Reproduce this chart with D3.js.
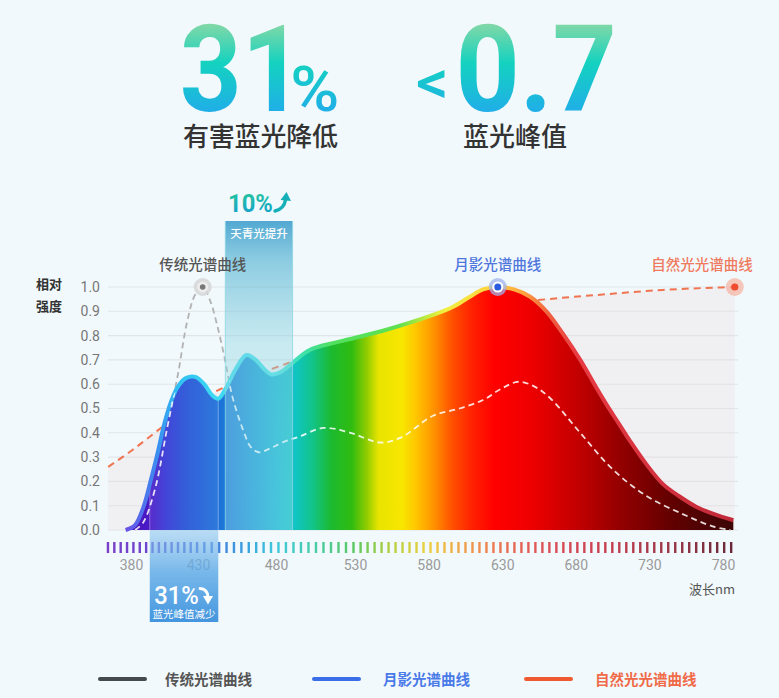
<!DOCTYPE html>
<html><head><meta charset="utf-8">
<script src="https://cdn.jsdelivr.net/npm/d3@7"></script>
<style>
html,body{margin:0;padding:0;background:#f1f9fc;}
svg{display:block;}
</style></head><body>
<svg id="c" width="779" height="698"></svg>
<script>
// ---------- DATA ----------
const xTickValues = [380, 430, 480, 530, 580, 630, 680, 730, 780];
const xTickLabels = ["380", "430", "480", "530", "580", "630", "680", "730", "780"];
const yTickValues = [0, 0.1, 0.2, 0.3, 0.4, 0.5, 0.6, 0.7, 0.8, 0.9, 1.0];
const yTickLabels = ["0.0","0.1","0.2","0.3","0.4","0.5","0.6","0.7","0.8","0.9","1.0"];
const seriesNames = ["传统光谱曲线", "月影光谱曲线", "自然光光谱曲线"];

// 月影光谱曲线 (wavelength nm, relative intensity)
const moonWl  = [376, 383, 389, 395, 400, 405, 410, 415, 421, 428, 434, 439, 443, 448, 454, 461, 467, 472, 477, 483, 490, 501, 520, 549, 583, 597, 608, 617, 627, 638, 649, 660, 671, 683, 694, 701, 709, 717, 728, 739, 750, 762, 774, 787];
const moonVal = [0, 0.02, 0.09, 0.21, 0.32, 0.44, 0.53, 0.59, 0.625, 0.63, 0.60, 0.555, 0.54, 0.585, 0.66, 0.72, 0.70, 0.665, 0.64, 0.65, 0.685, 0.74, 0.775, 0.82, 0.885, 0.92, 0.96, 0.99, 1.0, 0.99, 0.96, 0.90, 0.81, 0.70, 0.585, 0.515, 0.44, 0.365, 0.27, 0.19, 0.14, 0.095, 0.065, 0.04];

// 传统光谱曲线
const tradWl  = [383, 389, 398, 407, 415, 422, 428, 433, 438, 442, 447, 452, 459, 464, 469, 476, 484, 495, 510, 527, 547, 561, 583, 601, 617, 629, 641, 652, 663, 683, 705, 728, 751, 773, 785];
const tradVal = [0, 0.03, 0.17, 0.42, 0.64, 0.86, 0.97, 1.0, 0.94, 0.85, 0.71, 0.55, 0.41, 0.34, 0.32, 0.335, 0.36, 0.385, 0.42, 0.40, 0.36, 0.38, 0.47, 0.50, 0.535, 0.58, 0.61, 0.59, 0.54, 0.40, 0.25, 0.14, 0.07, 0.015, 0];

// 自然光光谱曲线
const natWl  = [363, 380, 400, 407, 430, 455, 476, 489, 520, 560, 600, 630, 654, 694, 739, 788];
const natVal = [0.26, 0.325, 0.41, 0.44, 0.53, 0.61, 0.66, 0.69, 0.76, 0.84, 0.90, 0.93, 0.946, 0.967, 0.988, 1.0];

// peak markers (wavelength of peak for each series)
const tradPeakWl = 433, moonPeakWl = 627, natEndWl = 788;

// highlight bands (wavelength ranges) and their texts
const cyanBand = [447.5, 490.5];   // 天青光提升
const blueBand = [394, 443];       // 蓝光峰值减少
const headline1 = {num: "31", unit: "%", label: "有害蓝光降低"};
const headline2 = {prefix: "<", num: "0.7", label: "蓝光峰值"};
const cyanNote = {pct: "10%", text: "天青光提升"};
const blueNote = {pct: "31%", text: "蓝光峰值减少"};

// spectrum colours (wavelength, colour)
const fillStops = [[376,"#4a0eb5"],[395,"#4a1cc8"],[405,"#3434d4"],[420,"#2350d6"],[440,"#1d6ad8"],[460,"#1890d8"],[480,"#12b4d4"],[492,"#10c4c4"],[503,"#12c48a"],[515,"#1cba30"],[528,"#30bc10"],[538,"#90cc00"],[546,"#e8e400"],[562,"#f8e600"],[572,"#ffc400"],[584,"#ff9000"],[596,"#ff5000"],[610,"#ff2000"],[625,"#ff0000"],[650,"#ee0000"],[680,"#c40000"],[710,"#940000"],[745,"#620000"],[787,"#3a0606"]];
const strokeStops = [[376,"#6a50e8"],[400,"#3a8ff0"],[415,"#30c0f2"],[440,"#3ed8f2"],[480,"#44e2e6"],[500,"#40e0a0"],[515,"#50e060"],[560,"#60e050"],[575,"#b0e840"],[590,"#f0f040"],[626,"#ffd040"],[645,"#ffa040"],[662,"#f06040"],[680,"#e83c44"],[787,"#c02838"]];
const tickStops = [[363,"#7a3ec8"],[400,"#6a48d0"],[430,"#4a6ad8"],[460,"#3aa0e0"],[480,"#40c8dc"],[505,"#48cca8"],[530,"#5cc860"],[555,"#b8d040"],[580,"#ecd040"],[600,"#f0a848"],[625,"#ec7850"],[660,"#dc5058"],[700,"#c84050"],[740,"#a03848"],[787,"#6a2838"]];
const stripWl = d3.range(362.8, 788, 4.75);

// ---------- SCALES ----------
const x = d3.scaleLinear().domain([380, 430, 480, 530, 780]).range([131, 198, 276, 355, 723]);
const y = d3.scaleLinear().domain([0, 1]).range([530, 287]);
const CJK = "'Noto Sans CJK SC','Noto Sans',sans-serif";
const NUM = "Roboto,'Noto Sans',sans-serif";

const svg = d3.select("#c");
const defs = svg.append("defs");

function hGrad(id, stops, x0wl, x1wl) {
  const g = defs.append("linearGradient").attr("id", id).attr("gradientUnits", "userSpaceOnUse")
    .attr("x1", x(x0wl)).attr("x2", x(x1wl)).attr("y1", 0).attr("y2", 0);
  const span = x(x1wl) - x(x0wl);
  stops.forEach(s => g.append("stop").attr("offset", Math.max(0, Math.min(1, (x(s[0]) - x(x0wl)) / span))).attr("stop-color", s[1]));
}
hGrad("specFill", fillStops, 376, 787);
hGrad("specStroke", strokeStops, 376, 787);
const tickColor = d3.scaleLinear().domain(tickStops.map(d => d[0])).range(tickStops.map(d => d[1])).interpolate(d3.interpolateRgb).clamp(true);

function vGrad(id, stops, y1, y2, units) {
  const g = defs.append("linearGradient").attr("id", id).attr("x1", 0).attr("x2", 0);
  if (units) g.attr("gradientUnits", "userSpaceOnUse").attr("y1", y1).attr("y2", y2);
  else g.attr("y1", 0).attr("y2", 1);
  stops.forEach(s => g.append("stop").attr("offset", s[0]).attr("stop-color", s[1]).attr("stop-opacity", s[2] == null ? 1 : s[2]));
}

// ---------- HEADLINE ----------
const cv = document.createElement("canvas").getContext("2d");
let gradN = 0;
function fitText(str, family, weight, box, stops) {
  cv.font = `${weight} 100px ${family}`;
  const m = cv.measureText(str);
  const inkW = m.actualBoundingBoxLeft + m.actualBoundingBoxRight;
  const inkH = m.actualBoundingBoxAscent + m.actualBoundingBoxDescent;
  const sx = (box[1] - box[0]) / inkW, sy = (box[3] - box[2]) / inkH;
  const tx = box[0] + m.actualBoundingBoxLeft * sx;
  const ty = box[3] - m.actualBoundingBoxDescent * sy;
  let fill = stops;
  if (Array.isArray(stops)) {
    const id = "tg" + (gradN++);
    vGrad(id, stops.g, (stops.y0 - ty) / sy, (stops.y1 - ty) / sy, true);
    fill = `url(#${id})`;
  }
  svg.append("text").attr("transform", `translate(${tx},${ty}) scale(${sx},${sy})`)
    .style("font-family", family).style("font-weight", weight).style("font-size", "100px")
    .attr("fill", fill).text(str);
}
function headStops(y0, y1) { const s = [[0,"#84d8a6"],[0.45,"#14d2c0"],[1,"#20aee8"]]; s.g = s; s.y0 = y0; s.y1 = y1; return s; }

fitText(headline1.num, NUM, 700, [183, 285, 23, 112], headStops(23, 112));
fitText(headline1.unit, NUM, 500, [293, 337, 65, 112], headStops(23, 112));
fitText(headline2.prefix, NUM, 500, [418, 445, 70, 98], headStops(23, 112));
fitText(headline2.num, NUM, 700, [460, 613, 23, 112], headStops(23, 112));

svg.append("text").attr("x", 183).attr("y", 146).style("font-family", CJK).style("font-size", "26px").style("font-weight", 500)
  .attr("fill", "#333").attr("textLength", 155).text(headline1.label);
svg.append("text").attr("x", 463).attr("y", 146).style("font-family", CJK).style("font-size", "26px").style("font-weight", 500)
  .attr("fill", "#333").attr("textLength", 104).text(headline2.label);

// ---------- GRID & AXES ----------
const grid = svg.append("g");
grid.selectAll("line").data(yTickValues).join("line")
  .attr("x1", 108).attr("x2", 738).attr("y1", d => y(d)).attr("y2", d => y(d))
  .attr("stroke", "#e1e5e8").attr("stroke-width", 1.1);

const yAxis = svg.append("g").attr("transform", "translate(108,0)")
  .call(d3.axisLeft(y).tickValues(yTickValues).tickFormat((d, i) => yTickLabels[i]).tickSize(0).tickPadding(8));
yAxis.select(".domain").remove();
yAxis.selectAll("text").style("font-family", NUM).style("font-size", "14px").attr("fill", "#777");

svg.append("text").attr("x", 36).attr("y", 289).style("font-family", CJK).style("font-size", "13px").style("font-weight", 700).attr("fill", "#333").text("相对");
svg.append("text").attr("x", 36).attr("y", 311).style("font-family", CJK).style("font-size", "13px").style("font-weight", 700).attr("fill", "#333").text("强度");

const xAxis = svg.append("g").attr("transform", "translate(0,530)")
  .call(d3.axisBottom(x).tickValues(xTickValues).tickFormat((d, i) => xTickLabels[i]).tickSize(0).tickPadding(30));
xAxis.select(".domain").remove();
xAxis.selectAll("text").style("font-family", NUM).style("font-size", "14px").attr("fill", "#9a9a9a");

svg.append("text").attr("x", 735).attr("y", 594).attr("text-anchor", "end").style("font-family", CJK).style("font-size", "13px")
  .attr("fill", "#555").text("波长nm");

// spectrum tick strip
svg.append("g").selectAll("rect").data(stripWl).join("rect")
  .attr("x", d => x(d) - 1.2).attr("y", 542).attr("width", 2.4).attr("height", 11)
  .attr("fill", d => tickColor(d));

// ---------- CURVES ----------
const moon = moonWl.map((w, i) => [w, moonVal[i]]);
const trad = tradWl.map((w, i) => [w, tradVal[i]]);
const nat = natWl.map((w, i) => [w, natVal[i]]);

const curve = d3.curveCatmullRom.alpha(0.5);
const line = d3.line().x(d => x(d[0])).y(d => y(d[1])).curve(curve);
const area = d3.area().x(d => x(d[0])).y0(y(0)).y1(d => y(d[1])).curve(curve);
const natArea = d3.area().x(d => x(d[0])).y0(y(0)).y1(d => y(d[1])).curve(d3.curveMonotoneX);
const natLine = d3.line().x(d => x(d[0])).y(d => y(d[1])).curve(d3.curveMonotoneX);

defs.append("clipPath").attr("id", "moonClip").append("path").attr("d", area(moon));

// natural light tint + dashed line
svg.append("path").attr("d", natArea(nat)).attr("fill", "#f0dcdc").attr("opacity", 0.3);
svg.append("path").attr("d", natLine(nat)).attr("fill", "none").attr("stroke", "#f0663e")
  .attr("stroke-width", 2).attr("stroke-dasharray", "7,5").attr("opacity", 0.9);

// traditional dashed (grey, outside fill)
svg.append("path").attr("d", line(trad)).attr("fill", "none").attr("stroke", "#b2b2b2")
  .attr("stroke-width", 1.8).attr("stroke-dasharray", "6,4");

// moon fill + stroke
svg.append("path").attr("d", area(moon)).attr("fill", "url(#specFill)");
const overlay = svg.append("g").attr("clip-path", "url(#moonClip)");
overlay.append("rect").attr("x", x(blueBand[0])).attr("width", x(blueBand[1]) - x(blueBand[0]))
  .attr("y", y(1)).attr("height", y(0) - y(1)).attr("fill", "#ffffff").attr("opacity", 0.08);
[blueBand[0], blueBand[1]].forEach(w => overlay.append("line").attr("x1", x(w)).attr("x2", x(w))
  .attr("y1", y(1)).attr("y2", y(0)).attr("stroke", "#fff").attr("stroke-opacity", 0.35).attr("stroke-width", 1));
svg.append("path").attr("d", line(moon)).attr("fill", "none").attr("stroke", "url(#specStroke)")
  .attr("stroke-width", 4).attr("stroke-linejoin", "round");

// traditional dashed (white, inside fill)
svg.append("path").attr("d", line(trad)).attr("fill", "none").attr("stroke", "#ffffff").attr("stroke-opacity", 0.85)
  .attr("clip-path", "url(#moonClip)").attr("stroke-width", 1.8).attr("stroke-dasharray", "6,4");

// ---------- CYAN BAND ----------
const cbx0 = x(cyanBand[0]), cbx1 = x(cyanBand[1]);
vGrad("cyanGrad", [[0,"#2f96c8",0.82],[0.12,"#4aaed0",0.62],[0.4,"#8fd4e0",0.42],[1,"#b6e8ee",0.32]], 0, 0, false);
svg.append("rect").attr("x", cbx0).attr("y", 221).attr("width", cbx1 - cbx0).attr("height", y(0) - 221).attr("fill", "url(#cyanGrad)");
[cbx0, cbx1].forEach(xx => svg.append("line").attr("x1", xx).attr("x2", xx).attr("y1", 221).attr("y2", y(0))
  .attr("stroke", "#8ed8e4").attr("stroke-width", 1).attr("opacity", 0.8));
svg.append("text").attr("x", (cbx0 + cbx1) / 2).attr("y", 238).attr("text-anchor", "middle").style("font-family", CJK)
  .style("font-size", "11.5px").style("font-weight", 500).attr("fill", "#fff").text(cyanNote.text);
const tealStops = [[0,"#22c4a0"],[1,"#16a4c8"]]; tealStops.g = tealStops; tealStops.y0 = 193; tealStops.y1 = 212;
fitText(cyanNote.pct, NUM, 700, [230, 272, 193, 212], tealStops);
svg.append("path").attr("d", "M275,211 Q284,209 285.5,200").attr("fill", "none").attr("stroke", "#18b0b8").attr("stroke-width", 3.4).attr("stroke-linecap", "round");
svg.append("path").attr("d", "M286.5,192 L291,201 L280.5,200 Z").attr("fill", "#18b0b8");

// ---------- BLUE BAND (below axis) ----------
const bbx0 = x(blueBand[0]), bbx1 = x(blueBand[1]);
vGrad("blueGrad", [[0,"#8cc4ee",0.55],[0.45,"#5aa8e6",0.8],[1,"#3a90dc",0.95]], 0, 0, false);
svg.append("rect").attr("x", bbx0).attr("y", y(0)).attr("width", bbx1 - bbx0).attr("height", 92).attr("fill", "url(#blueGrad)");
fitText(blueNote.pct, NUM, 500, [155, 198, 585, 604], "#ffffff");
svg.append("path").attr("d", "M200,588.5 Q207.5,589 208,597").attr("fill", "none").attr("stroke", "#fff").attr("stroke-width", 2.8).attr("stroke-linecap", "round");
svg.append("path").attr("d", "M203,596 L213,596 L208,604.5 Z").attr("fill", "#fff");
svg.append("text").attr("x", (bbx0 + bbx1) / 2).attr("y", 618).attr("text-anchor", "middle").style("font-family", CJK)
  .style("font-size", "10.5px").attr("fill", "#fff").text(blueNote.text);

// ---------- MARKERS & LABELS ----------
function marker(cx, cy, halo, haloOp, ring, dot, rDot) {
  svg.append("circle").attr("cx", cx).attr("cy", cy).attr("r", 9).attr("fill", halo).attr("opacity", haloOp);
  if (ring) svg.append("circle").attr("cx", cx).attr("cy", cy).attr("r", 5.5).attr("fill", ring);
  svg.append("circle").attr("cx", cx).attr("cy", cy).attr("r", rDot).attr("fill", dot);
}
marker(x(tradPeakWl), y(1), "#d6d6d6", 0.85, "#ececec", "#777", 2.8);
marker(x(moonPeakWl), y(1), "#9fb4ee", 0.75, "#ffffff", "#2a5de0", 3.5);
marker(x(natEndWl), y(1), "#f6b6a6", 0.75, null, "#f04a30", 3.6);

const lblY = 270;
svg.append("text").attr("x", x(tradPeakWl)).attr("y", lblY).attr("text-anchor", "middle").style("font-family", CJK)
  .style("font-size", "14.5px").style("font-weight", 500).attr("fill", "#555").text(seriesNames[0]);
svg.append("text").attr("x", x(moonPeakWl)).attr("y", lblY).attr("text-anchor", "middle").style("font-family", CJK)
  .style("font-size", "14.5px").style("font-weight", 500).attr("fill", "#4f76dc").text(seriesNames[1]);
svg.append("text").attr("x", 702).attr("y", lblY).attr("text-anchor", "middle").style("font-family", CJK)
  .style("font-size", "14.5px").style("font-weight", 500).attr("fill", "#f07a5e").text(seriesNames[2]);

// ---------- LEGEND ----------
const legendColors = ["#454a4e", "#3a6ee8", "#f05a30"];
const legendText = ["#555", "#4a7ae8", "#f06a48"];
const legendX = [100, 314, 526];
const legendTx = [165, 383, 595];
const lg = svg.append("g");
seriesNames.forEach((n, i) => {
  lg.append("line").attr("x1", legendX[i]).attr("x2", legendX[i] + 45).attr("y1", 679).attr("y2", 679)
    .attr("stroke", legendColors[i]).attr("stroke-width", 4).attr("stroke-linecap", "round");
  lg.append("text").attr("x", legendTx[i]).attr("y", 684.5).style("font-family", CJK).style("font-size", "14.5px")
    .style("font-weight", 700).attr("fill", legendText[i]).text(n);
});
</script>
</body></html>
